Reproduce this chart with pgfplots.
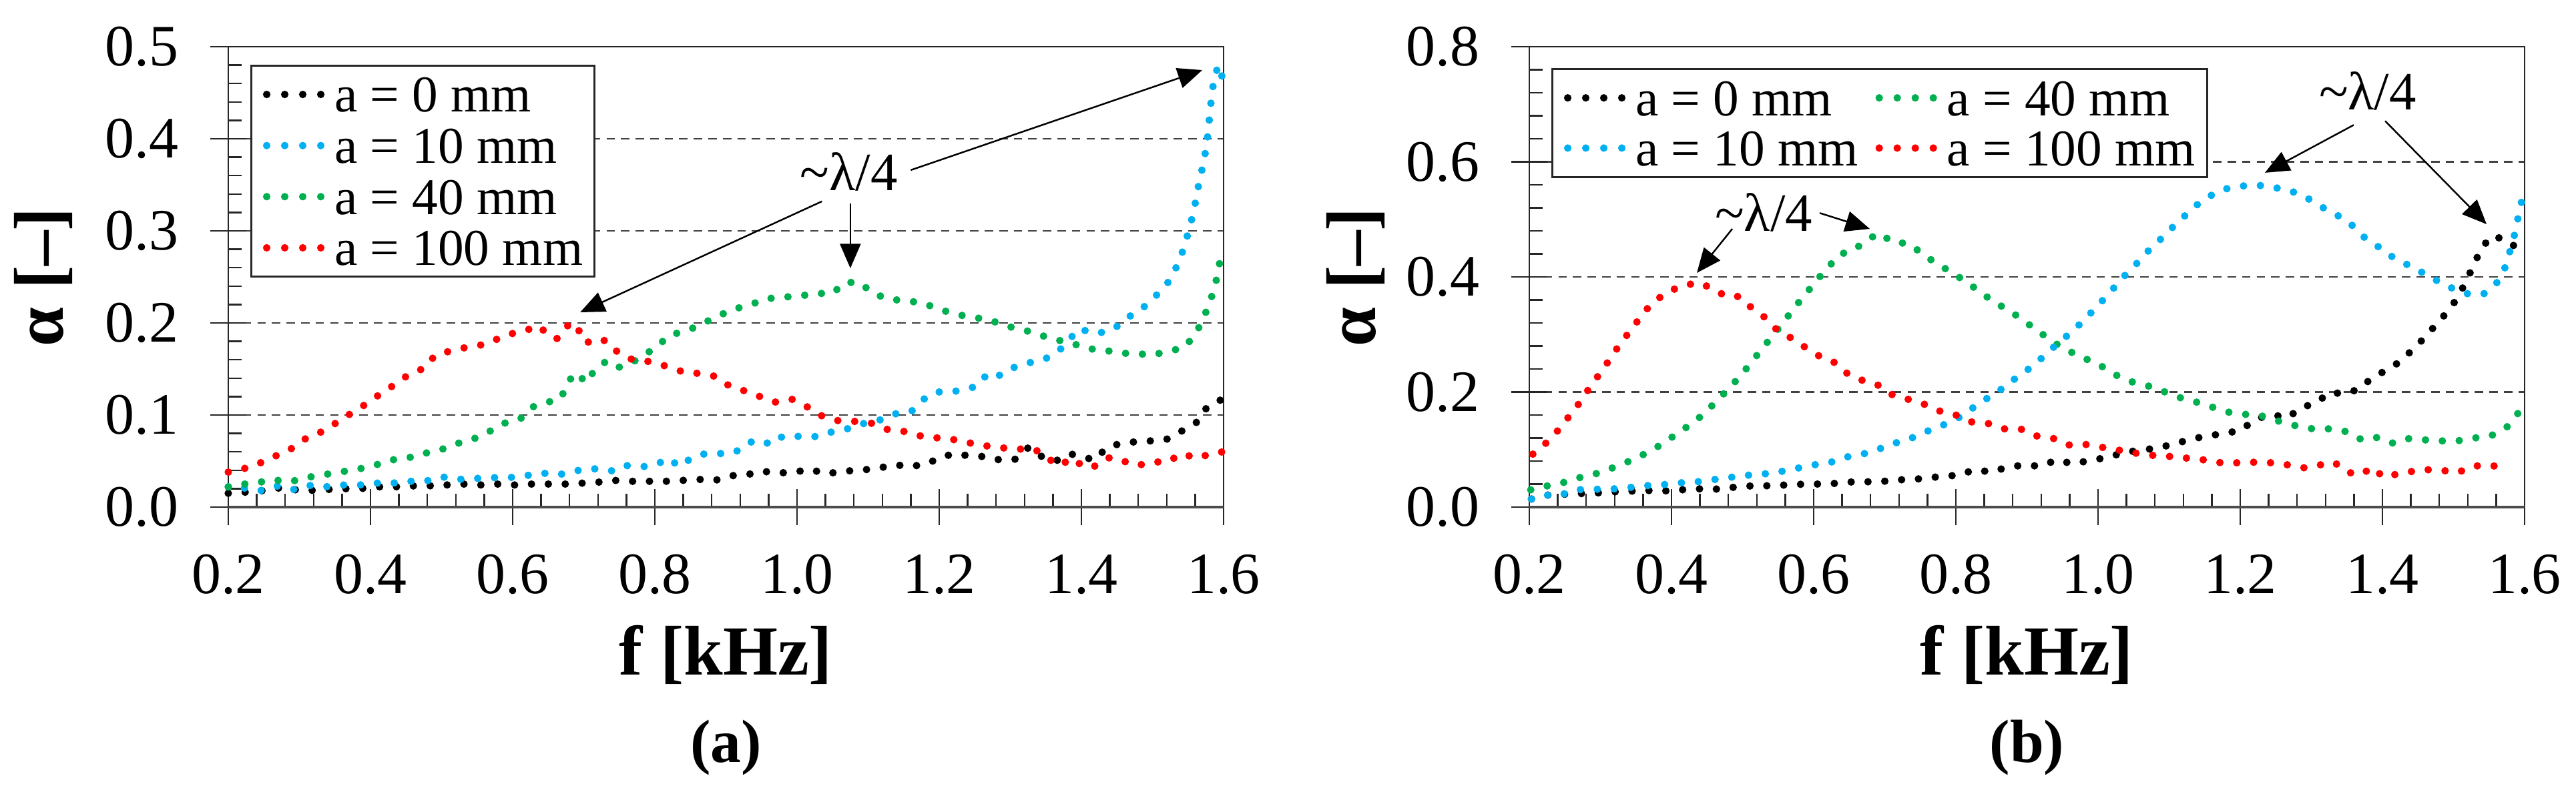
\documentclass[border=0pt]{standalone}
\usepackage{fontspec}
\setmainfont{Liberation Serif}
\usepackage{pgfplots}
\pgfplotsset{compat=1.18}
\usetikzlibrary{arrows.meta}

\definecolor{cZero}{HTML}{000000}
\definecolor{cTen}{HTML}{00B0F0}
\definecolor{cForty}{HTML}{00B050}
\definecolor{cHundred}{HTML}{FF0000}

\tikzset{
  dotline/.style={line width=1.6pt, line cap=round, dash pattern=on 0pt off 3.6pt},
  ann/.style={-{Triangle[length=5.2pt,width=4.4pt]}, line width=0.35pt, black},
  lam/.style={font=\fontsize{11.5}{11.5}\selectfont, inner sep=0pt},
  otick/.style={black!85, line width=0.35pt},
}

\pgfplotsset{
  panel/.style={
    scale only axis, width=7.455cm, height=3.45cm,
    xmin=0.2, xmax=1.6, ymin=0,
    xtick={0.2,0.4,0.6,0.8,1.0,1.2,1.4,1.6},
    minor x tick num=4, minor y tick num=4,
    tick align=inside, major tick length=0.135cm, minor tick length=0.1cm,
    xtick pos=left, ytick pos=left,
    tick style={black!85, line width=0.35pt},
    axis line style={black!85, line width=0.4pt},
    ymajorgrids,
    major grid style={black!75, line width=0.35pt, dash pattern=on 1.8pt off 1.3pt},
    /pgf/number format/assume math mode=true,
    ticklabel style={font=\fontsize{12.5}{12.5}\selectfont},
    xticklabel style={anchor=base, yshift=-0.65cm, /pgf/number format/.cd, fixed, fixed zerofill, precision=1},
    yticklabel style={anchor=east, xshift=-0.25cm, /pgf/number format/.cd, fixed, fixed zerofill, precision=1},
    clip=false,
    legend cell align=left,
    legend image code/.code={\draw[##1, dash pattern=on 0pt off 0.135cm] (0cm,0cm) -- (0.4055cm,0cm);},
    legend style={draw=black!85, line width=0.4pt, fill=white,
      font=\fontsize{11}{11}\selectfont,
      inner xsep=2.5pt, inner ysep=2.4pt, row sep=3.4pt, column sep=2.1pt,
      nodes={inner sep=0pt, text height=7.5pt, text depth=0pt},
      anchor=north west},
  },
}

\begin{document}
\begin{tikzpicture}
\useasboundingbox (-1.71cm,-2.15cm) rectangle (17.585cm,3.80cm);

% ---------------- panel (a) ----------------
\begin{axis}[panel, ymax=0.5, ytick={0,0.1,0.2,0.3,0.4,0.5},
  legend style={at={(0.0221,0.961)}}]
\addplot[dotline, cZero] coordinates {
(0.200,0.015) (0.220,0.016) (0.243,0.017) (0.266,0.021) (0.290,0.019) (0.314,0.018)
(0.337,0.019) (0.361,0.020) (0.385,0.020) (0.410,0.022) (0.434,0.022) (0.458,0.023)
(0.481,0.023) (0.506,0.024) (0.530,0.025) (0.554,0.024) (0.578,0.025) (0.602,0.024)
(0.627,0.025) (0.651,0.025) (0.674,0.025) (0.698,0.026) (0.720,0.027) (0.743,0.029)
(0.767,0.028) (0.791,0.028) (0.815,0.028) (0.839,0.029) (0.863,0.030) (0.885,0.029)
(0.906,0.034) (0.929,0.035) (0.950,0.039) (0.973,0.037) (0.996,0.038) (1.019,0.041)
(1.040,0.036) (1.065,0.039) (1.088,0.040) (1.113,0.042) (1.137,0.046) (1.160,0.044)
(1.183,0.047) (1.204,0.055) (1.225,0.058) (1.245,0.055) (1.266,0.055) (1.286,0.051)
(1.307,0.052) (1.326,0.065) (1.344,0.055) (1.364,0.050) (1.383,0.058) (1.401,0.055)
(1.418,0.051) (1.435,0.064) (1.454,0.069) (1.477,0.071) (1.500,0.072) (1.522,0.074)
(1.542,0.083) (1.564,0.093) (1.577,0.109) (1.595,0.116) (1.600,0.118)};
\addlegendentry{a = 0 mm}
\addplot[dotline, cTen] coordinates {
(0.200,0.022) (0.207,0.024) (0.230,0.019) (0.248,0.018) (0.270,0.023) (0.293,0.019)
(0.318,0.024) (0.341,0.022) (0.363,0.024) (0.385,0.024) (0.408,0.026) (0.431,0.026)
(0.454,0.028) (0.477,0.028) (0.500,0.033) (0.522,0.030) (0.546,0.031) (0.571,0.032)
(0.595,0.032) (0.618,0.034) (0.641,0.037) (0.664,0.035) (0.687,0.039) (0.706,0.042)
(0.726,0.041) (0.743,0.039) (0.761,0.045) (0.784,0.044) (0.801,0.046) (0.820,0.053)
(0.834,0.044) (0.853,0.054) (0.871,0.058) (0.891,0.058) (0.914,0.060) (0.929,0.069)
(0.945,0.073) (0.964,0.068) (0.980,0.077) (0.999,0.077) (1.013,0.076) (1.032,0.077)
(1.054,0.083) (1.078,0.086) (1.098,0.092) (1.119,0.095) (1.141,0.102) (1.161,0.104)
(1.178,0.117) (1.195,0.125) (1.218,0.125) (1.235,0.128) (1.253,0.131) (1.267,0.144)
(1.281,0.141) (1.297,0.150) (1.312,0.153) (1.332,0.158) (1.352,0.162) (1.370,0.171)
(1.397,0.194) (1.415,0.189) (1.434,0.190) (1.452,0.197) (1.471,0.209) (1.491,0.219)
(1.508,0.232) (1.524,0.246) (1.535,0.263) (1.544,0.281) (1.551,0.300) (1.557,0.318)
(1.562,0.337) (1.566,0.355) (1.572,0.374) (1.576,0.393) (1.579,0.412) (1.581,0.431)
(1.584,0.450) (1.587,0.469) (1.594,0.480) (1.600,0.460)};
\addlegendentry{a = 10 mm}
\addplot[dotline, cForty] coordinates {
(0.200,0.022) (0.207,0.024) (0.239,0.026) (0.262,0.030) (0.285,0.027) (0.309,0.032)
(0.333,0.035) (0.357,0.038) (0.381,0.041) (0.405,0.045) (0.427,0.051) (0.451,0.053)
(0.474,0.058) (0.498,0.062) (0.522,0.069) (0.545,0.074) (0.567,0.082) (0.588,0.091)
(0.611,0.096) (0.629,0.109) (0.650,0.114) (0.668,0.118) (0.677,0.135) (0.689,0.146)
(0.704,0.135) (0.716,0.150) (0.733,0.159) (0.750,0.152) (0.768,0.157) (0.787,0.166)
(0.804,0.175) (0.821,0.187) (0.844,0.191) (0.866,0.199) (0.888,0.207) (0.910,0.215)
(0.933,0.219) (0.954,0.226) (0.978,0.228) (1.002,0.229) (1.026,0.232) (1.050,0.232)
(1.067,0.244) (1.088,0.244) (1.107,0.232) (1.129,0.226) (1.152,0.224) (1.176,0.222)
(1.199,0.215) (1.221,0.210) (1.245,0.206) (1.269,0.204) (1.292,0.197) (1.316,0.193)
(1.338,0.188) (1.361,0.182) (1.384,0.179) (1.407,0.172) (1.430,0.171) (1.453,0.167)
(1.475,0.167) (1.499,0.165) (1.521,0.169) (1.544,0.173) (1.560,0.187) (1.571,0.204)
(1.580,0.221) (1.588,0.240) (1.593,0.259) (1.598,0.280)};
\addlegendentry{a = 40 mm}
\addplot[dotline, cHundred] coordinates {
(0.200,0.038) (0.223,0.042) (0.245,0.048) (0.268,0.056) (0.290,0.064) (0.310,0.075)
(0.332,0.082) (0.353,0.092) (0.373,0.102) (0.394,0.112) (0.414,0.123) (0.434,0.133)
(0.454,0.144) (0.476,0.151) (0.491,0.165) (0.510,0.169) (0.532,0.173) (0.555,0.176)
(0.577,0.182) (0.597,0.188) (0.619,0.192) (0.637,0.197) (0.652,0.185) (0.663,0.183)
(0.672,0.193) (0.683,0.201) (0.693,0.192) (0.703,0.178) (0.717,0.183) (0.734,0.180)
(0.749,0.167) (0.769,0.160) (0.793,0.158) (0.816,0.153) (0.839,0.147) (0.863,0.145)
(0.885,0.142) (0.904,0.132) (0.927,0.126) (0.948,0.120) (0.970,0.114) (0.993,0.117)
(1.014,0.109) (1.035,0.099) (1.057,0.094) (1.082,0.093) (1.105,0.091) (1.128,0.084)
(1.152,0.082) (1.175,0.077) (1.199,0.075) (1.223,0.073) (1.247,0.069) (1.270,0.066)
(1.293,0.064) (1.313,0.063) (1.334,0.063) (1.351,0.054) (1.368,0.045) (1.388,0.053)
(1.404,0.043) (1.424,0.045) (1.440,0.054) (1.459,0.050) (1.478,0.045) (1.500,0.049)
(1.521,0.049) (1.541,0.058) (1.563,0.053) (1.586,0.059) (1.600,0.060)};
\addlegendentry{a = 100 mm}
% outward halves of the major ticks and the heavier base line
\pgfplotsinvokeforeach{0,0.1,0.2,0.3,0.4,0.5}{\draw[otick] (axis cs:0.2,#1) -- ++(-0.135cm,0cm);}
\pgfplotsinvokeforeach{0.2,0.4,0.6,0.8,1.0,1.2,1.4,1.6}{\draw[otick] (axis cs:#1,0) -- ++(0cm,-0.135cm);}
\draw[black!70, line width=0.65pt] (rel axis cs:0,0) -- (rel axis cs:1,0);
% resonance annotations
\node[lam] at (axis cs:1.073,0.3645) {\textasciitilde λ/4};
\draw[ann] (axis cs:1.16,0.366) -- (axis cs:1.570,0.4746);
\draw[ann] (axis cs:1.035,0.332) -- (axis cs:0.695,0.2116);
\draw[ann] (axis cs:1.075,0.330) -- (axis cs:1.075,0.2594);
\end{axis}

% ---------------- panel (b) ----------------
\begin{axis}[panel, at={(9.745cm,0cm)}, ymax=0.8, ytick={0,0.2,0.4,0.6,0.8},
  legend columns=2,
  legend style={at={(0.0221,0.9536)}, row sep=3.2pt,
    /tikz/every even column/.append style={column sep=3.7pt}}]
\addplot[dotline, cZero] coordinates {
(0.203,0.014) (0.211,0.016) (0.233,0.023) (0.255,0.022) (0.279,0.024) (0.303,0.025)
(0.326,0.027) (0.350,0.028) (0.374,0.029) (0.398,0.028) (0.423,0.031) (0.447,0.032)
(0.471,0.031) (0.495,0.036) (0.520,0.037) (0.543,0.037) (0.567,0.039) (0.592,0.040)
(0.616,0.040) (0.640,0.042) (0.664,0.045) (0.688,0.043) (0.712,0.047) (0.735,0.048)
(0.759,0.050) (0.782,0.054) (0.804,0.055) (0.826,0.065) (0.849,0.061) (0.872,0.069)
(0.895,0.073) (0.919,0.071) (0.942,0.082) (0.965,0.075) (0.988,0.081) (1.012,0.086)
(1.037,0.095) (1.061,0.099) (1.085,0.103) (1.108,0.110) (1.131,0.118) (1.155,0.124)
(1.179,0.128) (1.202,0.134) (1.220,0.152) (1.243,0.161) (1.267,0.155) (1.285,0.173)
(1.306,0.180) (1.324,0.198) (1.346,0.198) (1.366,0.204) (1.385,0.224) (1.404,0.237)
(1.424,0.252) (1.442,0.273) (1.459,0.294) (1.476,0.318) (1.492,0.340) (1.506,0.364)
(1.517,0.391) (1.528,0.419) (1.538,0.447) (1.553,0.471) (1.574,0.465) (1.594,0.445)
(1.600,0.445)};
\addlegendentry{a = 0 mm}
\addplot[dotline, cForty] coordinates {
(0.202,0.030) (0.226,0.037) (0.249,0.043) (0.273,0.052) (0.297,0.059) (0.319,0.069)
(0.343,0.081) (0.365,0.094) (0.386,0.109) (0.406,0.126) (0.426,0.143) (0.446,0.162)
(0.463,0.184) (0.480,0.205) (0.497,0.228) (0.512,0.251) (0.528,0.276) (0.543,0.299)
(0.558,0.322) (0.573,0.347) (0.588,0.369) (0.604,0.394) (0.620,0.416) (0.636,0.439)
(0.656,0.446) (0.674,0.464) (0.693,0.476) (0.711,0.460) (0.734,0.458) (0.753,0.440)
(0.773,0.423) (0.794,0.408) (0.815,0.391) (0.834,0.374) (0.854,0.356) (0.876,0.341)
(0.896,0.323) (0.916,0.306) (0.935,0.288) (0.956,0.273) (0.978,0.260) (1.001,0.248)
(1.021,0.232) (1.043,0.219) (1.067,0.212) (1.090,0.202) (1.113,0.191) (1.137,0.183)
(1.160,0.174) (1.183,0.165) (1.208,0.161) (1.231,0.158) (1.255,0.149) (1.279,0.141)
(1.302,0.136) (1.326,0.136) (1.350,0.131) (1.371,0.117) (1.393,0.121) (1.415,0.111)
(1.436,0.119) (1.457,0.117) (1.482,0.115) (1.505,0.115) (1.529,0.120) (1.553,0.124)
(1.575,0.139) (1.592,0.165)};
\addlegendentry{a = 40 mm}
\addplot[dotline, cTen] coordinates {
(0.203,0.014) (0.219,0.021) (0.242,0.020) (0.265,0.030) (0.288,0.031) (0.310,0.031)
(0.335,0.033) (0.359,0.037) (0.383,0.038) (0.407,0.042) (0.431,0.043) (0.455,0.047)
(0.479,0.051) (0.503,0.055) (0.527,0.057) (0.551,0.061) (0.575,0.067) (0.598,0.073)
(0.622,0.077) (0.646,0.087) (0.669,0.092) (0.692,0.101) (0.714,0.111) (0.736,0.119)
(0.758,0.131) (0.779,0.141) (0.800,0.152) (0.819,0.168) (0.837,0.184) (0.857,0.198)
(0.875,0.216) (0.894,0.232) (0.913,0.250) (0.931,0.271) (0.949,0.290) (0.968,0.310)
(0.985,0.331) (1.002,0.353) (1.018,0.375) (1.035,0.399) (1.052,0.420) (1.068,0.442)
(1.086,0.463) (1.103,0.484) (1.121,0.505) (1.139,0.525) (1.158,0.541) (1.180,0.553)
(1.203,0.558) (1.227,0.559) (1.250,0.555) (1.274,0.548) (1.297,0.535) (1.317,0.520)
(1.338,0.506) (1.357,0.490) (1.376,0.467) (1.396,0.451) (1.415,0.434) (1.437,0.420)
(1.457,0.407) (1.476,0.394) (1.497,0.381) (1.517,0.371) (1.542,0.370) (1.560,0.388)
(1.572,0.415) (1.579,0.443) (1.586,0.474) (1.591,0.504) (1.596,0.532) (1.600,0.540)};
\addlegendentry{a = 10 mm}
\addplot[dotline, cHundred] coordinates {
(0.205,0.092) (0.208,0.095) (0.227,0.115) (0.243,0.137) (0.258,0.161) (0.273,0.185)
(0.286,0.210) (0.301,0.235) (0.315,0.260) (0.329,0.286) (0.344,0.309) (0.359,0.335)
(0.374,0.356) (0.395,0.374) (0.416,0.385) (0.439,0.390) (0.460,0.378) (0.477,0.366)
(0.496,0.366) (0.512,0.347) (0.532,0.329) (0.549,0.307) (0.571,0.292) (0.590,0.276)
(0.611,0.260) (0.632,0.250) (0.649,0.230) (0.669,0.220) (0.688,0.214) (0.709,0.196)
(0.731,0.188) (0.755,0.179) (0.777,0.167) (0.800,0.160) (0.822,0.148) (0.846,0.145)
(0.868,0.136) (0.893,0.135) (0.915,0.123) (0.938,0.119) (0.959,0.108) (0.982,0.109)
(1.005,0.104) (1.029,0.099) (1.051,0.094) (1.076,0.090) (1.101,0.088) (1.125,0.085)
(1.149,0.082) (1.173,0.077) (1.197,0.077) (1.221,0.078) (1.245,0.077) (1.269,0.073)
(1.291,0.068) (1.311,0.073) (1.332,0.078) (1.350,0.061) (1.368,0.056) (1.387,0.069)
(1.401,0.052) (1.423,0.058) (1.442,0.062) (1.462,0.065) (1.483,0.064) (1.506,0.060)
(1.529,0.072) (1.553,0.070) (1.576,0.078)};
\addlegendentry{a = 100 mm}
\pgfplotsinvokeforeach{0,0.2,0.4,0.6,0.8}{\draw[otick] (axis cs:0.2,#1) -- ++(-0.135cm,0cm);}
\pgfplotsinvokeforeach{0.2,0.4,0.6,0.8,1.0,1.2,1.4,1.6}{\draw[otick] (axis cs:#1,0) -- ++(0cm,-0.135cm);}
\draw[black!70, line width=0.65pt] (rel axis cs:0,0) -- (rel axis cs:1,0);
\node[lam] at (axis cs:0.5296,0.5125) {\textasciitilde λ/4};
\draw[ann] (axis cs:0.4855,0.4835) -- (axis cs:0.4357,0.407);
\draw[ann] (axis cs:0.6085,0.511) -- (axis cs:0.679,0.4835);
\node[lam] at (axis cs:1.3793,0.7235) {\textasciitilde λ/4};
\draw[ann] (axis cs:1.3596,0.664) -- (axis cs:1.2347,0.581);
\draw[ann] (axis cs:1.4038,0.671) -- (axis cs:1.5465,0.4916);
\end{axis}

% axis titles and panel tags
\node[rotate=90, font=\fontsize{15}{15}\selectfont\bfseries] at (-1.385cm,1.725cm) {α [–]};
\node[rotate=90, font=\fontsize{15}{15}\selectfont\bfseries] at (8.445cm,1.725cm) {α [–]};
\node[anchor=base, font=\fontsize{15}{15}\selectfont\bfseries] at (3.7275cm,-1.26cm) {f [kHz]};
\node[anchor=base, font=\fontsize{15}{15}\selectfont\bfseries] at (13.4725cm,-1.26cm) {f [kHz]};
\node[anchor=base, font=\fontsize{13}{13}\selectfont\bfseries] at (3.7275cm,-1.915cm) {(a)};
\node[anchor=base, font=\fontsize{13}{13}\selectfont\bfseries] at (13.4725cm,-1.915cm) {(b)};
\end{tikzpicture}
\end{document}
